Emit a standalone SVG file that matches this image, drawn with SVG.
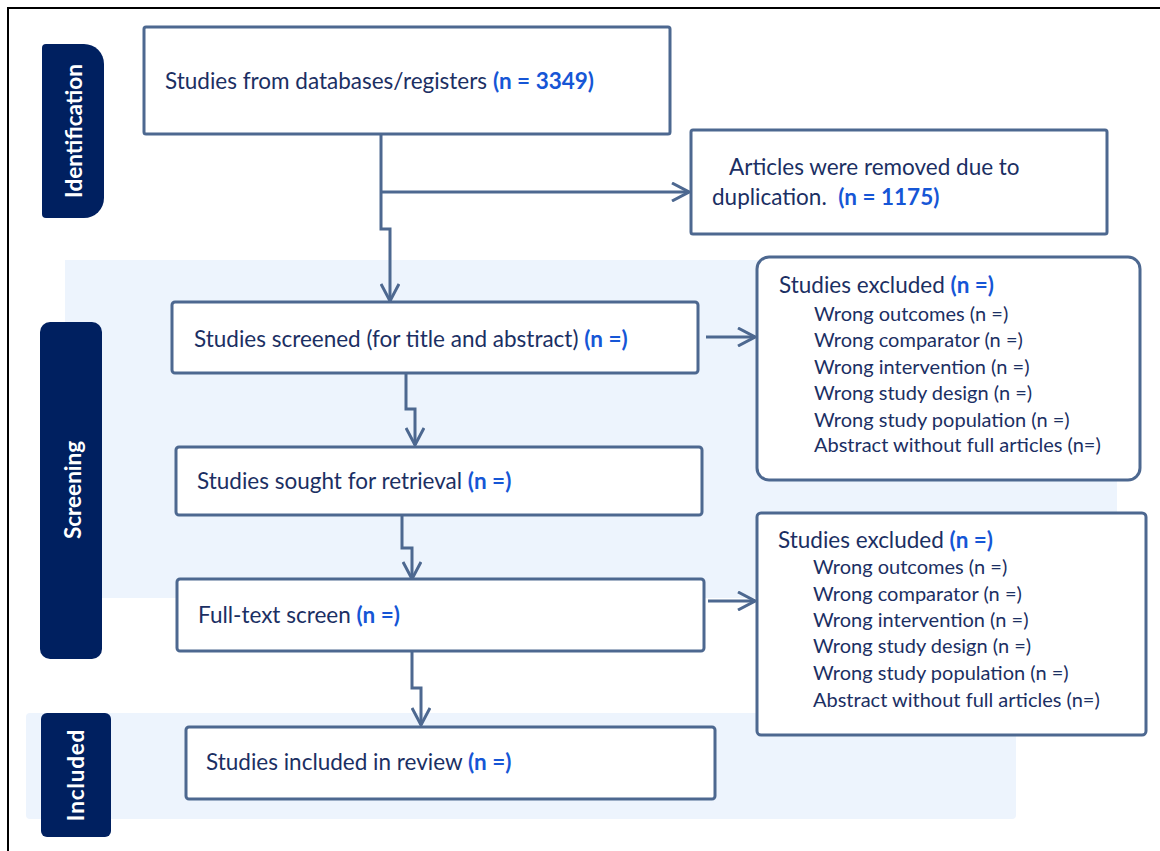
<svg xmlns="http://www.w3.org/2000/svg" width="1160" height="851" viewBox="0 0 1160 851">
<defs>
<style>
.box{fill:#fff;stroke:#4d6890;stroke-width:3}
.t{font-family:Lato,"Open Sans",sans-serif;font-size:22.5px;fill:#1b2f63}
.s{font-family:Lato,"Open Sans",sans-serif;font-size:20px;fill:#1b2f63}
.b{font-weight:bold;fill:#1656d6}
.lab{font-family:Lato,"Open Sans",sans-serif;font-size:22.5px;font-weight:bold;fill:#fff}
.panel{fill:#edf4fd}
.tag{fill:#002060}
.c{fill:none;stroke:#4d6890;stroke-width:3;stroke-linejoin:miter}
</style>
<marker id="ah" viewBox="0 0 20 20" refX="18" refY="10" markerWidth="20" markerHeight="20" markerUnits="userSpaceOnUse" orient="auto">
<path d="M1,1 L18,10 L1,19" fill="none" stroke="#4d6890" stroke-width="3"/>
</marker>
</defs>
<rect width="1160" height="851" fill="#fff"/>
<path d="M8,851 V8 H1160" fill="none" stroke="#000" stroke-width="2"/>

<g id="panels">
<rect class="panel" x="65" y="260" width="1052" height="338"/>
<rect class="panel" x="26" y="713" width="990" height="106" rx="4"/>
</g>

<g id="label-identification">
<path class="tag" d="M46,44 H84 A20,20 0 0 1 104,64 V198 A20,20 0 0 1 84,218 H46 A4,4 0 0 1 42,214 V48 A4,4 0 0 1 46,44 Z"/>
<text class="lab" transform="translate(73,131) rotate(-90)" text-anchor="middle" dominant-baseline="central">Identification</text>
</g>
<g id="label-screening">
<rect class="tag" x="40" y="322" width="62" height="337" rx="10"/>
<text class="lab" transform="translate(72,490) rotate(-90)" text-anchor="middle" dominant-baseline="central">Screening</text>
</g>
<g id="label-included">
<rect class="tag" x="41" y="713" width="70" height="124" rx="6"/>
<text class="lab" transform="translate(75,775) rotate(-90)" text-anchor="middle" dominant-baseline="central" font-size="21" letter-spacing="0.8">Included</text>
</g>

<g id="connectors">
<path class="c" d="M381,134 V229 H390 V301" marker-end="url(#ah)"/>
<path class="c" d="M381,192 H689" marker-end="url(#ah)"/>
<path class="c" d="M406,373 V409 H415 V445" marker-end="url(#ah)"/>
<path class="c" d="M402,515 V548 H412 V579" marker-end="url(#ah)"/>
<path class="c" d="M412,651 V688 H421 V725" marker-end="url(#ah)"/>
<path class="c" d="M706,337 H755" marker-end="url(#ah)"/>
<path class="c" d="M708,601 H755" marker-end="url(#ah)"/>
</g>

<g id="n-records">
<rect class="box" x="144" y="27" width="526" height="107" rx="2"/>
<text class="t" x="165" y="89">Studies from databases/registers <tspan class="b">(n = 3349)</tspan></text>
</g>
<g id="n-duplicates">
<rect class="box" x="691" y="130" width="416" height="104" rx="2"/>
<text class="t" x="729" y="175">Articles were removed due to</text>
<text class="t" x="712" y="205" xml:space="preserve">duplication.  <tspan class="b">(n = 1175)</tspan></text>
</g>
<g id="n-screened">
<rect class="box" x="172" y="302" width="526" height="71" rx="3"/>
<text class="t" x="194" y="347">Studies screened (for title and abstract) <tspan class="b">(n =)</tspan></text>
</g>
<g id="n-excluded-1">
<rect class="box" x="757" y="257" width="383" height="223" rx="12"/>
<text class="t" x="779" y="293">Studies excluded <tspan class="b">(n =)</tspan></text>
<text class="s" x="814" y="321">Wrong outcomes (n =)</text>
<text class="s" x="814" y="347">Wrong comparator (n =)</text>
<text class="s" x="814" y="374">Wrong intervention (n =)</text>
<text class="s" x="814" y="400">Wrong study design (n =)</text>
<text class="s" x="814" y="427">Wrong study population (n =)</text>
<text class="s" x="814" y="452">Abstract without full articles (n=)</text>
</g>
<g id="n-sought">
<rect class="box" x="176" y="447" width="526" height="68" rx="3"/>
<text class="t" x="197" y="489">Studies sought for retrieval <tspan class="b">(n =)</tspan></text>
</g>
<g id="n-fulltext">
<rect class="box" x="177" y="579" width="527" height="72" rx="3"/>
<text class="t" x="198" y="623">Full-text screen <tspan class="b">(n =)</tspan></text>
</g>
<g id="n-excluded-2">
<rect class="box" x="757" y="513" width="389" height="222" rx="4"/>
<text class="t" x="778" y="548">Studies excluded <tspan class="b">(n =)</tspan></text>
<text class="s" x="813" y="574">Wrong outcomes (n =)</text>
<text class="s" x="813" y="601">Wrong comparator (n =)</text>
<text class="s" x="813" y="627">Wrong intervention (n =)</text>
<text class="s" x="813" y="653">Wrong study design (n =)</text>
<text class="s" x="813" y="680">Wrong study population (n =)</text>
<text class="s" x="813" y="707">Abstract without full articles (n=)</text>
</g>
<g id="n-included">
<rect class="box" x="186" y="727" width="529" height="72" rx="3"/>
<text class="t" x="206" y="770">Studies included in review <tspan class="b">(n =)</tspan></text>
</g>
</svg>
